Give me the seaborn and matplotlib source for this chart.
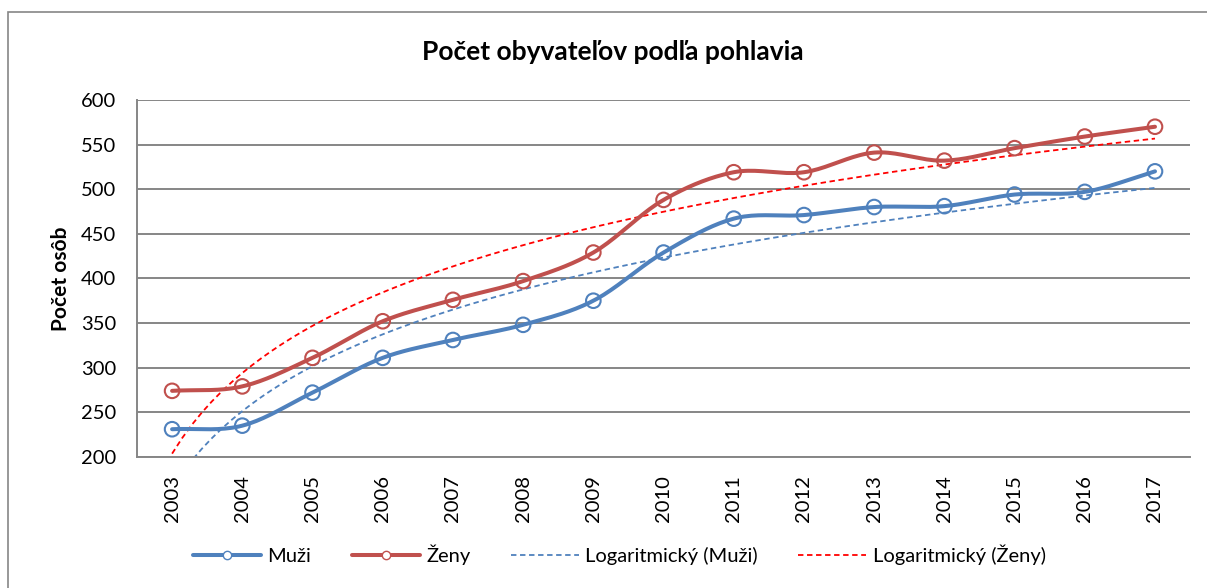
import numpy as np
import matplotlib
matplotlib.use("Agg")
import matplotlib.pyplot as plt
from matplotlib.lines import Line2D
from matplotlib.patches import Rectangle
import seaborn as sns

# ====== Dáta ======
roky = ["2003", "2004", "2005", "2006", "2007", "2008", "2009", "2010",
        "2011", "2012", "2013", "2014", "2015", "2016", "2017"]
muzi = [231, 235, 272, 311, 331, 348, 375, 429, 467, 471, 480, 481, 494, 497, 520]
zeny = [274, 279, 311, 352, 376, 397, 429, 488, 519, 519, 541, 532, 546, 559, 570]

FARBA_MUZI = "#4F81BD"
FARBA_ZENY = "#C0504D"
SIVA = "#868686"

sns.set_theme(style="white")
plt.rcParams.update({
    "font.family": ["Lato", "DejaVu Sans"],
    "text.color": "black",
    "axes.labelcolor": "black",
    "xtick.color": "black",
    "ytick.color": "black",
})


def _hladka(x, y, n=20):
    """Catmull-Rom vyhladenie čiary (ako 'vyhladená čiara' v Exceli)"""
    x = np.asarray(x, float)
    y = np.asarray(y, float)
    px = np.concatenate([[2 * x[0] - x[1]], x, [2 * x[-1] - x[-2]]])
    py = np.concatenate([[2 * y[0] - y[1]], y, [2 * y[-1] - y[-2]]])
    xs, ys = [], []
    t = np.linspace(0, 1, n, endpoint=False)
    for i in range(1, len(px) - 2):
        for arr, out in ((px, xs), (py, ys)):
            p0, p1, p2, p3 = arr[i - 1], arr[i], arr[i + 1], arr[i + 2]
            out.extend(0.5 * ((2 * p1) + (-p0 + p2) * t
                              + (2 * p0 - 5 * p1 + 4 * p2 - p3) * t ** 2
                              + (-p0 + 3 * p1 - 3 * p2 + p3) * t ** 3))
    xs.append(x[-1])
    ys.append(y[-1])
    return np.array(xs), np.array(ys)


x = np.arange(1, len(roky) + 1)

fig = plt.figure(figsize=(12.07, 5.88), dpi=100)
ax = fig.add_axes([0.1135, 0.223, 0.8725, 0.607])

# logaritmické trendy
sns.regplot(x=x, y=muzi, logx=True, ci=None, scatter=False, ax=ax,
            line_kws={"color": FARBA_MUZI, "lw": 1.3, "ls": (0, (3, 2))})
sns.regplot(x=x, y=zeny, logx=True, ci=None, scatter=False, ax=ax,
            line_kws={"color": "#FF0000", "lw": 1.3, "ls": (0, (3, 2))})

for data, farba in ((muzi, FARBA_MUZI), (zeny, FARBA_ZENY)):
    hx, hy = _hladka(x, data)
    ax.plot(hx, hy, color=farba, lw=2.9, zorder=3)
    sns.scatterplot(x=x, y=data, ax=ax, s=110, facecolor="none",
                    edgecolor=farba, linewidth=1.5, zorder=4)

ax.set_xlim(0.5, 15.5)
ax.set_ylim(200, 600)
ax.set_yticks(range(200, 601, 50))
ax.set_xticks(x)
ax.set_xticklabels(roky, rotation=90, fontsize=14.5)
ax.tick_params(axis="y", labelsize=14.5, left=False, length=0, pad=15)
ax.tick_params(axis="x", bottom=False, length=0, pad=13)
ax.grid(axis="y", color=SIVA, lw=1.4)
ax.grid(axis="x", visible=False)
ax.set_axisbelow(True)
for side in ("top", "right"):
    ax.spines[side].set_visible(False)
for side in ("left", "bottom"):
    ax.spines[side].set_color(SIVA)
    ax.spines[side].set_linewidth(1.4)

ax.set_ylabel("Počet osôb", fontsize=15, fontweight="bold")
ax.yaxis.set_label_coords(-0.063, 0.5)
ax.set_xlabel("")
fig.text(0.508, 0.912, "Počet obyvateľov podľa pohlavia", fontsize=19,
         fontweight="bold", ha="center", va="center")

handles = [
    Line2D([], [], color=FARBA_MUZI, lw=2.9, marker="o", mfc="white",
           mec=FARBA_MUZI, ms=6),
    Line2D([], [], color=FARBA_ZENY, lw=2.9, marker="o", mfc="white",
           mec=FARBA_ZENY, ms=6),
    Line2D([], [], color=FARBA_MUZI, lw=1.3, ls=(0, (3, 2))),
    Line2D([], [], color="#FF0000", lw=1.3, ls=(0, (3, 2))),
]
fig.legend(handles, ["Muži", "Ženy", "Logaritmický (Muži)", "Logaritmický (Ženy)"],
           loc="center", bbox_to_anchor=(0.513, 0.056), ncol=4, frameon=False,
           fontsize=14.5, handlelength=3.4, columnspacing=2.0, handletextpad=0.3)

# rám grafu (pravý a dolný okraj sú orezané)
fig.patches.append(Rectangle((8 / 1207, -0.1), 1.2, 1.1 - 12 / 588,
                             transform=fig.transFigure, fill=False,
                             edgecolor=SIVA, lw=1.2))

fig.savefig("out.png", dpi=100)
